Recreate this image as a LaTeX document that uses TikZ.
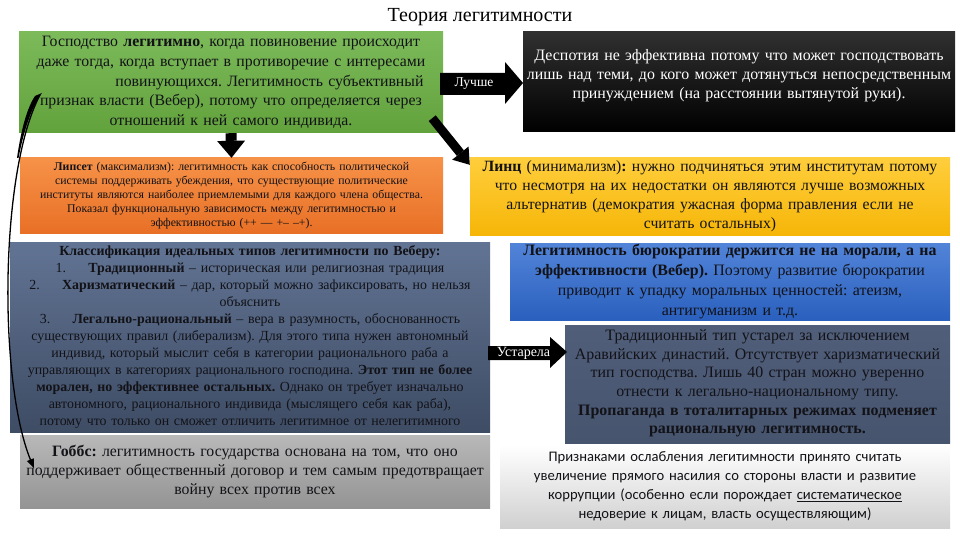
\documentclass[tikz,border=0pt]{standalone}
\usepackage{fontspec}
\setmainfont{Liberation Serif}
\newfontfamily\carlfont{Carlito}
\usetikzlibrary{arrows.meta}
\definecolor{txt}{rgb}{0.07,0.07,0.09}
\frenchspacing
\begin{document}
\begin{tikzpicture}[x=1pt,y=-1pt,
  box/.style={inner sep=0pt, align=center, text=txt},
  fatarrow/.style={line width=11pt, -{Triangle[width=28pt,length=17pt,line width=0pt]}},
  diagarrow/.style={line width=9pt, -{Triangle[width=21pt,length=15pt,line width=0pt]}},
  lbl/.style={text=white, inner sep=0pt, font=\fontsize{13.5}{15}\selectfont}]
\useasboundingbox (0,0) rectangle (960,540);

\node[inner sep=0pt, font=\fontsize{20}{23}\selectfont] (title) at (480,17) {Теория легитимности};

% green
\node[box, minimum width=424pt, minimum height=101pt, text width=410pt,
  top color={rgb,255:red,124;green,186;blue,90}, bottom color={rgb,255:red,98;green,162;blue,60},
  font=\fontsize{15.8}{19.6}\selectfont] (green) at (231,82.5)
  {Господство \textbf{легитимно}, когда повиновение происходит\\
   даже тогда, когда вступает в противоречие с интересами\\
   \makebox[385pt][r]{повинующихся. Легитимность субъективный}\\
   признак власти (Вебер), потому что определяется через\\
   отношений к ней самого индивида.};

% black
\node[minimum width=432pt, minimum height=100pt, inner sep=0pt,
  top color={rgb,255:red,48;green,48;blue,48}, bottom color=black] (black) at (739,82) {};
\node[box, text width=428pt, text=white, font=\fontsize{15.9}{19}\selectfont] (blacktext) at (739,76)
  {Деспотия не эффективна потому что может господствовать\\
   лишь над теми, до кого может дотянуться непосредственным\\
   принуждением (на расстоянии вытянутой руки).};

% orange
\node[box, minimum width=423pt, minimum height=75pt, text width=418pt,
  top color={rgb,255:red,246;green,146;blue,72}, bottom color={rgb,255:red,232;green,112;blue,38},
  font=\fontsize{11.8}{14.2}\selectfont] (orange) at (231.5,195.5)
  {\textbf{Липсет} (максимализм): легитимность как способность политической\\
   системы поддерживать убеждения, что существующие политические\\
   институты являются наиболее приемлемыми для каждого члена общества.\\
   Показал функциональную зависимость между легитимностью и\\
   эффективностью (++ –– +– –+).};

% yellow
\node[box, minimum width=480pt, minimum height=77pt, text width=472pt,
  top color={rgb,255:red,255;green,206;blue,60}, bottom color={rgb,255:red,246;green,182;blue,8},
  font=\fontsize{15.7}{19}\selectfont] (yellow) at (710,196.5)
  {\textbf{Линц} (минимализм)\textbf{:} нужно подчиняться этим институтам потому\\
   что несмотря на их недостатки он являются лучше возможных\\
   альтернатив (демократия ужасная форма правления если не\\
   считать остальных)};

% weber
\node[box, minimum width=480pt, minimum height=190pt, text width=474pt,
  top color={rgb,255:red,98;green,116;blue,148}, bottom color={rgb,255:red,62;green,76;blue,100},
  font=\fontsize{13.9}{17}\selectfont] (weber) at (250,337)
  {\textbf{Классификация идеальных типов легитимности по Веберу:}\\
   1.\hspace{1.6em}\textbf{Традиционный} – историческая или религиозная традиция\\
   2.\hspace{1.6em}\textbf{Харизматический} – дар, который можно зафиксировать, но нельзя\\
   объяснить\\
   3.\hspace{1.6em}\textbf{Легально-рациональный} – вера в разумность, обоснованность\\
   существующих правил (либерализм). Для этого типа нужен автономный\\
   индивид, который мыслит себя в категории рационального раба а\\
   управляющих в категориях рационального господина. \textbf{Этот тип не более}\\
   \textbf{морален, но эффективнее остальных.} Однако он требует изначально\\
   автономного, рационального индивида (мыслящего себя как раба),\\
   потому что только он сможет отличить легитимное от нелегитимного};

% blue
\node[box, minimum width=440pt, minimum height=77pt, text width=436pt,
  top color={rgb,255:red,82;green,132;blue,216}, bottom color={rgb,255:red,42;green,96;blue,190},
  font=\fontsize{15.9}{20}\selectfont] (blue) at (730,281.5)
  {\textbf{Легитимность бюрократии держится не на морали, а на}\\
   \textbf{эффективности (Вебер).} Поэтому развитие бюрократии\\
   приводит к упадку моральных ценностей: атеизм,\\
   антигуманизм и т.д.};

% traditional
\node[minimum width=385pt, minimum height=118pt, inner sep=0pt,
  top color={rgb,255:red,80;green,94;blue,122}, bottom color={rgb,255:red,70;green,84;blue,110}] (trad) at (757.5,384) {};
\node[box, text width=382pt, font=\fontsize{15.9}{18.6}\selectfont] (tradtext) at (757.5,383.5)
  {Традиционный тип устарел за исключением\\
   Аравийских династий. Отсутствует харизматический\\
   тип господства. Лишь 40 стран можно уверенно\\
   отнести к легально-национальному типу.\\
   \textbf{Пропаганда в тоталитарных режимах подменяет}\\
   \textbf{рациональную легитимность.}};

% hobbes
\node[box, minimum width=470pt, minimum height=73pt, text width=466pt,
  top color={rgb,255:red,184;green,184;blue,184}, bottom color={rgb,255:red,148;green,148;blue,148},
  font=\fontsize{15.8}{19}\selectfont] (hobbes) at (255,471.5)
  {\textbf{Гоббс:} легитимность государства основана на том, что оно\\
   поддерживает общественный договор и тем самым предотвращает\\
   войну всех против всех};

% bottom right
\node[box, minimum width=450pt, minimum height=83pt, text width=442pt,
  top color=white, bottom color={rgb,255:red,208;green,208;blue,208},
  font=\carlfont\fontsize{14.6}{19}\selectfont] (signs) at (725,486.5)
  {Признаками ослабления легитимности принято считать\\
   увеличение прямого насилия со стороны власти и развитие\\
   коррупции (особенно если порождает \underline{систематическое}\\
   недоверие к лицам, власть осуществляющим)};

% arrow "Лучше"
\fill (440,73) -- (505,73) -- (505,62) -- (523,83) -- (505,104) -- (505,95) -- (440,95) -- cycle;
\node[lbl] (better) at (474,84) {Лучше};

% arrow "Устарела"
\fill (488,346) -- (550,346) -- (550,337) -- (567,352) -- (550,368) -- (550,360) -- (488,360) -- cycle;
\node[lbl, font=\fontsize{14}{15}\selectfont] (outdated) at (523.5,353) {Устарела};

% connectors
\draw[fatarrow] (green.south) -- (orange.north);
\coordinate (ds) at ([xshift=-11pt,yshift=15pt]green.south east);
\coordinate (de) at ([yshift=-7pt]yellow.north west);
\draw[diagarrow] (ds) -- (de);

\coordinate (cs) at (40,95);
\coordinate (ce) at ([xshift=14pt,yshift=3.5pt]hobbes.west);
\draw[line width=1.3pt, -{Triangle[length=9pt,width=7pt]}] (cs) .. controls (0,170) and (-2,380) .. (ce);
\fill (35,96) .. controls (27,108) and (21,130) .. (17,158) -- (18.5,158) .. controls (24,130) and (31,108) .. (42,93) -- cycle;
\end{tikzpicture}
\end{document}
